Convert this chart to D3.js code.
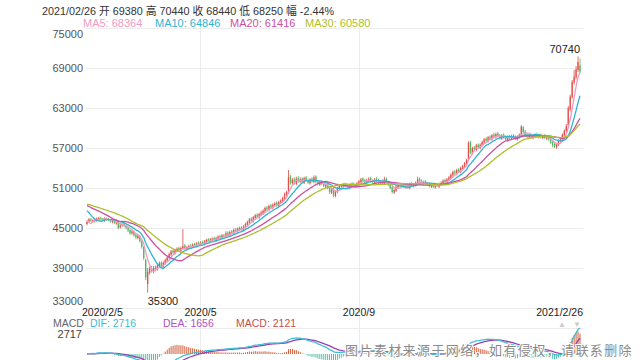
<!DOCTYPE html>
<html>
<head>
<meta charset="utf-8">
<script src="https://cdn.jsdelivr.net/npm/d3@7"></script>
<style>
html, body { margin: 0; padding: 0; background: #fff; }
svg { display: block; font-family: "Liberation Sans", Arial, "Noto Sans CJK SC", sans-serif; }
</style>
</head>
<body>
<svg id="chart" width="640" height="360"></svg>
<script>

// closes before the first shown day, only used to warm up the moving averages
var warmupCloses = [48700, 48800, 48800, 48900, 49000, 49100, 49200, 49400, 49300, 49200,
    49100, 49200, 49000, 48800, 48900, 48900, 49100, 49300, 49500, 49400,
    49400, 49600, 49300, 48900, 47900, 47800, 47000, 44900, 45300];

// daily candles 2020/2/5 .. 2021/2/26
var opens = [
    45600, 46000, 46300, 46000, 46200, 46100, 46300, 46500, 46400, 46100,
    46400, 46400, 46200, 45900, 46100, 45700, 45900, 45100, 45400, 45700,
    45300, 45000, 44700, 44200, 44400, 44000, 43500, 43700, 43000, 42100,
    40200, 36600, 38300, 38900, 38500, 39100, 38800, 39300, 39800, 39200,
    39700, 40100, 40500, 41000, 41600, 41200, 41600, 42000, 41500, 41900,
    42400, 41800, 42000, 42400, 42200, 42600, 42300, 42800, 42500, 42900,
    42600, 42900, 43300, 43000, 43200, 43500, 43100, 43400, 43800, 43500,
    43900, 43700, 44300, 43900, 44500, 44200, 44800, 44500, 44800, 45100,
    44700, 45100, 45500, 45800, 46400, 46000, 46500, 47000, 46600, 47000,
    47200, 47500, 48100, 47700, 48400, 48000, 48400, 48800, 48300, 48800,
    49000, 49400, 50000, 50300, 52700, 51700, 52300, 51600, 52500, 51900,
    52400, 51800, 52600, 52200, 51700, 52400, 51900, 52700, 51900, 51500,
    51900, 51700, 51200, 51600, 51100, 50300, 50900, 49800, 50400, 50900,
    51400, 51100, 51600, 51400, 51000, 51300, 51700, 51200, 51400, 51600,
    51900, 52400, 52200, 51700, 52100, 52500, 52100, 51800, 52400, 52200,
    51700, 52100, 51600, 52400, 51900, 51600, 51100, 50300, 50600, 51100,
    51500, 51200, 51600, 51100, 51500, 51000, 51700, 51300, 51400, 51700,
    52400, 52100, 51700, 52000, 51700, 51600, 51200, 51500, 51100, 51600,
    51200, 51500, 51700, 52200, 51800, 52200, 52500, 52900, 53500, 53100,
    53800, 53400, 53900, 54200, 54600, 55300, 57900, 56200, 57100, 56700,
    57500, 57000, 57400, 57800, 58400, 58000, 58700, 58300, 59000, 58600,
    59200, 58900, 58400, 59000, 58700, 58200, 58800, 58400, 58900, 58700,
    58300, 58600, 58900, 60100, 59500, 59000, 58600, 59000, 58500, 58700,
    59100, 58600, 59000, 58500, 58900, 58400, 58700, 58400, 57900, 57600,
    57100, 57500, 58000, 58200, 58900, 59500, 60400, 62800, 64600, 66800,
    67600, 68700, 69380];

var highs = [
    46100, 46500, 46500, 46300, 46400, 46600, 46700, 46700, 46500, 46600,
    46600, 46500, 46300, 46300, 46200, 46100, 46000, 45600, 45800, 45800,
    45500, 45200, 44800, 44700, 44600, 44200, 44000, 43900, 43200, 42300,
    40400, 39000, 39200, 39300, 39300, 39400, 39600, 40000, 40000, 40000,
    40400, 40800, 41300, 41700, 41800, 41900, 42100, 42200, 42200, 44850,
    42600, 42300, 42500, 42600, 42700, 42800, 42900, 43000, 43000, 43100,
    43200, 43400, 43500, 43500, 43600, 43700, 43700, 43900, 44000, 44100,
    44100, 44500, 44500, 44600, 44700, 44900, 45000, 45100, 45200, 45300,
    45400, 45800, 46100, 46500, 46600, 46800, 47100, 47200, 47300, 47600,
    47800, 48200, 48300, 48500, 48600, 48700, 48900, 49000, 49100, 49300,
    49700, 50300, 50600, 53700, 53000, 52500, 52600, 52700, 52800, 52600,
    52600, 52700, 52800, 52400, 52500, 52600, 52900, 52900, 52100, 52000,
    52100, 51900, 51700, 51800, 51200, 51000, 51100, 50700, 51200, 51500,
    51600, 51700, 51800, 51600, 51600, 51800, 51900, 51700, 51900, 52200,
    52500, 52600, 52400, 52400, 52600, 52700, 52300, 52500, 52600, 52400,
    52200, 52300, 52700, 52600, 52100, 51800, 51300, 50900, 51400, 51600,
    51700, 51700, 51800, 51600, 51700, 51800, 51900, 51700, 52000, 52700,
    52600, 52300, 52100, 52200, 51900, 51800, 51600, 51700, 51700, 51800,
    51800, 52000, 52300, 52400, 52500, 52800, 53200, 53600, 53700, 53900,
    54000, 54200, 54500, 54900, 55400, 58000, 58100, 57200, 57300, 57600,
    57700, 57700, 58100, 58500, 58600, 58800, 58900, 59100, 59300, 59300,
    59400, 59100, 59100, 59200, 58900, 58900, 59000, 59000, 59100, 58900,
    58900, 59200, 60450, 60300, 59700, 59200, 59100, 59200, 59000, 59200,
    59300, 59100, 59200, 59000, 59100, 58800, 58900, 58600, 58100, 57800,
    57800, 58300, 58500, 59200, 59800, 60600, 63300, 65000, 67200, 68700,
    69300, 70740, 70440];

var lows = [
    45400, 45800, 45900, 45800, 45800, 45900, 46100, 46100, 46000, 45900,
    46100, 46000, 45800, 45700, 45600, 45500, 44800, 44900, 45200, 45100,
    44800, 44400, 44000, 44000, 43700, 43300, 43300, 42800, 41900, 40200,
    37200, 35300, 38000, 38300, 38200, 38500, 38600, 39100, 39100, 39000,
    39500, 39900, 40300, 40800, 41100, 41000, 41400, 41400, 41300, 41700,
    41700, 41600, 41800, 42000, 42000, 42200, 42100, 42400, 42300, 42500,
    42400, 42700, 42900, 42800, 43000, 43000, 42900, 43200, 43400, 43300,
    43600, 43500, 43800, 43700, 44100, 44000, 44400, 44300, 44600, 44600,
    44500, 44900, 45300, 45600, 45900, 45800, 46300, 46500, 46400, 46800,
    47000, 47300, 47600, 47500, 47900, 47800, 48200, 48200, 48100, 48600,
    48800, 49200, 49800, 50100, 51500, 51400, 51500, 51400, 51800, 51700,
    51700, 51600, 51900, 51600, 51500, 51800, 51700, 51700, 51400, 51300,
    51400, 51100, 51000, 50800, 50100, 50100, 49600, 49600, 50200, 50700,
    51000, 50900, 51100, 50900, 50800, 51100, 51100, 51000, 51200, 51400,
    51700, 51900, 51600, 51500, 51900, 51800, 51700, 51600, 51900, 51600,
    51500, 51500, 51400, 51600, 51300, 50800, 50200, 50100, 50400, 50900,
    51100, 51000, 51000, 50900, 50900, 50800, 51200, 51100, 51200, 51500,
    51800, 51600, 51500, 51400, 51300, 51100, 51000, 51000, 50900, 51100,
    51000, 51300, 51500, 51700, 51600, 52000, 52300, 52700, 53000, 52900,
    53300, 53200, 53700, 54000, 54400, 55100, 56100, 56000, 56500, 56500,
    56900, 56800, 57200, 57600, 57900, 57800, 58200, 58100, 58500, 58400,
    58600, 58300, 58200, 58400, 58100, 58000, 58300, 58200, 58400, 58200,
    58100, 58400, 58700, 59200, 58700, 58500, 58400, 58400, 58300, 58500,
    58500, 58400, 58400, 58300, 58300, 58200, 58100, 57600, 57100, 57000,
    56900, 57300, 57800, 58100, 58700, 59300, 60200, 62500, 64400, 66500,
    67300, 68400, 68250];

var closes = [
    45900, 46300, 46100, 46200, 46000, 46400, 46500, 46300, 46200, 46400,
    46300, 46200, 46000, 46100, 45800, 45900, 45000, 45400, 45600, 45300,
    45000, 44600, 44200, 44500, 43900, 43600, 43800, 43000, 42200, 40500,
    37600, 38400, 38900, 38600, 39000, 38700, 39400, 39700, 39300, 39800,
    40200, 40600, 41100, 41500, 41300, 41700, 41900, 41600, 42000, 42300,
    41900, 42100, 42300, 42200, 42500, 42400, 42700, 42600, 42800, 42700,
    43000, 43200, 43100, 43300, 43400, 43200, 43500, 43700, 43600, 43900,
    43800, 44200, 44000, 44400, 44300, 44700, 44600, 44900, 45000, 44800,
    45200, 45600, 45900, 46300, 46100, 46600, 46900, 46700, 47100, 47300,
    47600, 48000, 47800, 48300, 48100, 48500, 48700, 48400, 48900, 49100,
    49500, 50100, 50400, 52600, 51800, 52200, 51700, 52400, 52000, 52300,
    51900, 52500, 52100, 51800, 52300, 52000, 52600, 51900, 51600, 51800,
    51600, 51300, 51500, 51000, 50400, 50800, 49900, 50500, 51000, 51300,
    51200, 51500, 51300, 51100, 51400, 51600, 51300, 51500, 51700, 52000,
    52300, 52100, 51800, 52200, 52400, 52000, 51900, 52300, 52100, 51800,
    52000, 51700, 52300, 51800, 51500, 51000, 50400, 50700, 51200, 51400,
    51300, 51500, 51200, 51400, 51100, 51600, 51400, 51500, 51800, 52300,
    52000, 51800, 51900, 51600, 51500, 51300, 51400, 51200, 51500, 51300,
    51600, 51800, 52100, 51900, 52300, 52600, 53000, 53400, 53200, 53700,
    53500, 54000, 54300, 54700, 55200, 57800, 56300, 57000, 56800, 57400,
    57100, 57500, 57900, 58300, 58100, 58600, 58400, 58900, 58700, 59100,
    58800, 58500, 58900, 58600, 58300, 58700, 58500, 58800, 58600, 58400,
    58700, 59000, 60200, 59400, 58900, 58700, 58900, 58600, 58800, 59000,
    58700, 58900, 58600, 58800, 58500, 58600, 58300, 57800, 57400, 57200,
    57600, 58100, 58300, 59000, 59600, 60300, 63000, 64700, 66900, 67700,
    68800, 69900, 68440];

var tickIndex = [0, 58, 139, 252];
var tickLabels = ["2020/2/5", "2020/5", "2020/9", "2021/2/26"];
var priceTicks = [75000, 69000, 63000, 57000, 51000, 45000, 39000, 33000];

var headerText = "2021/02/26 开 69380 高 70440 收 68440 低 68250 幅 -2.44%";
var maPeriods = [5, 10, 20, 30];
var maNames = ["MA5", "MA10", "MA20", "MA30"];
var maLegendValues = [68364, 64846, 61416, 60580];
var maColors = ["#f29ac2", "#2fb4d2", "#cc4fa4", "#aebf2c"];

var macdNames = ["DIF", "DEA", "MACD"];
var macdLegendValues = [2716, 1656, 2121];
var macdColors = ["#3cc0d6", "#b64fc2", "#c8504a"];
var macdTop = 2717;

var peakValue = 70740, lowValue = 35300;
var watermark = "图片素材来源于网络，如有侵权，请联系删除";

var upColor = "#dd4b47", downColor = "#4fb55a";

var svg = d3.select("#chart");

var x = d3.scaleLinear().domain([0, closes.length - 1]).range([87, 580]);
var y = d3.scaleLinear().domain([33000, 75000]).range([308, 28]);
var yMacd = d3.scaleLinear().domain([0, macdTop]).range([354, 328]);

var step = x(1) - x(0),
    bodyW = Math.max(1, step * 0.72);

// grid
svg.append("g").selectAll("line")
    .data(priceTicks)
    .enter().append("line")
    .attr("x1", 86).attr("x2", 583)
    .attr("y1", function(d) { return Math.round(y(d)) + 0.5; })
    .attr("y2", function(d) { return Math.round(y(d)) + 0.5; })
    .attr("stroke", "#ececec");

svg.append("line")
    .attr("x1", 86).attr("x2", 583)
    .attr("y1", Math.round(yMacd(macdTop)) + 0.5).attr("y2", Math.round(yMacd(macdTop)) + 0.5)
    .attr("stroke", "#ececec");

svg.append("g").selectAll("line")
    .data(tickIndex.slice(1, 3))
    .enter().append("line")
    .attr("x1", function(d) { return Math.round(x(d)) + 0.5; })
    .attr("x2", function(d) { return Math.round(x(d)) + 0.5; })
    .attr("y1", 28).attr("y2", 360)
    .attr("stroke", "#ececec");

// y labels
svg.append("g").selectAll("text")
    .data(priceTicks)
    .enter().append("text")
    .attr("x", 83)
    .attr("y", function(d, i) {
        var off = i == 0 ? 6 : (i == priceTicks.length - 1 ? -7 : 0);
        return y(d) + off;
    })
    .attr("dy", "0.35em")
    .attr("text-anchor", "end")
    .attr("font-size", 11)
    .attr("fill", "#555")
    .text(function(d) { return d; });

// x labels
svg.append("g").selectAll("text")
    .data(tickIndex)
    .enter().append("text")
    .attr("x", function(d, i) {
        if (i == 0) return 82;
        if (i == tickIndex.length - 1) return 583;
        return x(d);
    })
    .attr("y", 312)
    .attr("dy", "0.35em")
    .attr("text-anchor", function(d, i) {
        return i == 0 ? "start" : (i == tickIndex.length - 1 ? "end" : "middle");
    })
    .attr("font-size", 10.5)
    .attr("fill", "#222")
    .text(function(d, i) { return tickLabels[i]; });

// candles
var idx = d3.range(closes.length);
var candles = svg.append("g").selectAll("g")
    .data(idx)
    .enter().append("g");

candles.append("line")
    .attr("x1", function(i) { return x(i); })
    .attr("x2", function(i) { return x(i); })
    .attr("y1", function(i) { return y(highs[i]); })
    .attr("y2", function(i) { return y(lows[i]); })
    .attr("stroke", function(i) { return closes[i] >= opens[i] ? upColor : downColor; })
    .attr("stroke-width", 0.8);

candles.append("rect")
    .attr("x", function(i) { return x(i) - bodyW / 2; })
    .attr("width", bodyW)
    .attr("y", function(i) { return y(Math.max(opens[i], closes[i])); })
    .attr("height", function(i) { return Math.max(1, Math.abs(y(opens[i]) - y(closes[i]))); })
    .attr("fill", function(i) { return closes[i] >= opens[i] ? upColor : downColor; })
    .attr("opacity", 0.85);

// moving averages
var full = warmupCloses.concat(closes);
var w = warmupCloses.length;
function movingAvg(n) {
    return idx.map(function(i) {
        return d3.mean(full.slice(i + w - n + 1, i + w + 1));
    });
}

var line = d3.line()
    .x(function(d, i) { return x(i); })
    .y(function(d) { return y(d); })
    .curve(d3.curveMonotoneX);

maPeriods.forEach(function(n, k) {
    svg.append("path")
        .datum(movingAvg(n))
        .attr("d", line)
        .attr("fill", "none")
        .attr("stroke", maColors[k])
        .attr("stroke-width", 1.3);
});

// MACD panel
function ema(arr, n) {
    var a = 2 / (n + 1), out = [], prev = arr[0];
    arr.forEach(function(v) { prev = prev + a * (v - prev); out.push(prev); });
    return out;
}
var e12 = ema(closes, 12), e26 = ema(closes, 26);
var dif = closes.map(function(c, i) { return e12[i] - e26[i]; });
var dea = ema(dif, 9);
var hist = dif.map(function(d, i) { return 2 * (d - dea[i]); });

svg.append("clipPath").attr("id", "macdClip")
    .append("rect").attr("x", 82).attr("y", 326).attr("width", 505).attr("height", 40);

var macdG = svg.append("g").attr("clip-path", "url(#macdClip)");

macdG.selectAll("rect")
    .data(hist)
    .enter().append("rect")
    .attr("x", function(d, i) { return x(i) - 0.5; })
    .attr("width", 1)
    .attr("y", function(d) { return Math.min(yMacd(d), yMacd(0)); })
    .attr("height", function(d) { return Math.abs(yMacd(d) - yMacd(0)); })
    .attr("fill", function(d) { return d >= 0 ? "#d0603c" : "#52c2a8"; });

var macdLine = d3.line()
    .x(function(d, i) { return x(i); })
    .y(function(d) { return yMacd(d); });

macdG.append("path").datum(dea).attr("d", macdLine)
    .attr("fill", "none").attr("stroke", "#9a3fb0").attr("stroke-width", 1.3);
macdG.append("path").datum(dif).attr("d", macdLine)
    .attr("fill", "none").attr("stroke", "#3cc0d6").attr("stroke-width", 1.3);

// header + legends
svg.append("text")
    .attr("x", 42).attr("y", 15)
    .attr("font-size", 11.5)
    .attr("fill", "#333")
    .attr("textLength", 292)
    .attr("lengthAdjust", "spacingAndGlyphs")
    .text(headerText);

var maX = [83, 155, 230, 305];
svg.append("g").selectAll("text")
    .data(maNames)
    .enter().append("text")
    .attr("x", function(d, i) { return maX[i]; })
    .attr("y", 27)
    .attr("font-size", 11)
    .attr("fill", function(d, i) { return maColors[i]; })
    .text(function(d, i) { return d + ": " + maLegendValues[i]; });

svg.append("text")
    .attr("x", 53).attr("y", 327)
    .attr("font-size", 10.5).attr("fill", "#666")
    .text("MACD");

var macdX = [90, 163, 236];
svg.append("g").selectAll("text")
    .data(macdNames)
    .enter().append("text")
    .attr("x", function(d, i) { return macdX[i]; })
    .attr("y", 327)
    .attr("font-size", 10.5)
    .attr("fill", function(d, i) { return macdColors[i]; })
    .text(function(d, i) { return d + ": " + macdLegendValues[i]; });

svg.append("text")
    .attr("x", 82).attr("y", 338)
    .attr("text-anchor", "end")
    .attr("font-size", 11).attr("fill", "#444")
    .text(macdTop);

// extreme labels
var peakIdx = highs.indexOf(peakValue), lowIdx = lows.indexOf(lowValue);
svg.append("text")
    .attr("x", x(peakIdx) + 2).attr("y", y(peakValue) - 3)
    .attr("text-anchor", "end")
    .attr("font-size", 11).attr("fill", "#222")
    .text(peakValue);

svg.append("text")
    .attr("x", x(lowIdx)).attr("y", y(lowValue) + 12)
    .attr("font-size", 11).attr("fill", "#222")
    .text(lowValue);

// small arrows near last date
svg.append("text").attr("x", 562).attr("y", 327).attr("text-anchor", "middle")
    .attr("font-size", 8).attr("fill", "#ccc").text("▲");
svg.append("text").attr("x", 577).attr("y", 327).attr("text-anchor", "middle")
    .attr("font-size", 8).attr("fill", "#ccc").text("▼");

// watermark
svg.append("text")
    .attr("x", 345).attr("y", 355)
    .attr("font-family", "Noto Sans CJK SC")
    .attr("font-size", 13)
    .attr("letter-spacing", 1.4)
    .attr("fill", "#8a8a8a")
    .attr("stroke", "#fff")
    .attr("stroke-width", 2)
    .attr("paint-order", "stroke")
    .text(watermark);

</script>
</body>
</html>
